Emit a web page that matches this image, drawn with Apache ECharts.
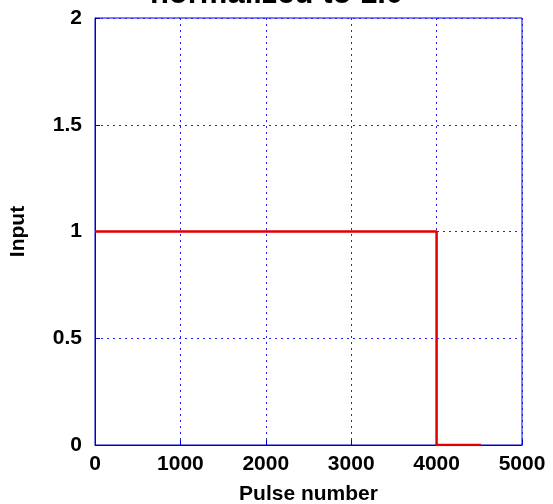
<!DOCTYPE html>
<html><head><meta charset="utf-8">
<script src="https://cdn.jsdelivr.net/npm/echarts@6/dist/echarts.min.js"></script>
<style>html,body{margin:0;padding:0;background:#fff}#c{width:553px;height:504px}</style>
</head><body><div id="c"></div>
<script>
const titleText = 'normalized to 1.0';
const xName = 'Pulse number';
const yName = 'Input';
const pulseX = [0, 4000, 4000, 4520];
const inputY = [1, 1, 0, 0];
const xTicks = [0, 1000, 2000, 3000, 4000, 5000];
const yTicks = [0, 0.5, 1, 1.5, 2];

const chart = echarts.init(document.getElementById('c'), null, {renderer: 'canvas'});
const font = 'Arial, "Liberation Sans", sans-serif';
const mkGrid = () => ({show: true, lineStyle: {color: '#2222ff', width: 1, type: [2, 4]}});
const mkLabel = (ticks, margin) => ({fontFamily: font, fontWeight: 'bold', fontSize: 21, color: '#000', margin: margin,
  formatter: v => ticks.includes(v) ? String(v) : ''});
chart.setOption({
  animation: false,
  title: {text: titleText, left: 'center', top: -26, textStyle: {fontFamily: font, fontWeight: 'bold', fontSize: 31, color: '#000'}},
  grid: {left: 95, right: 31, top: 18, bottom: 59, containLabel: false, outerBoundsMode: 'none',
    show: true, borderColor: '#0000cc', borderWidth: 1, backgroundColor: '#fff'},
  xAxis: {
    type: 'value', min: 0, max: 5000, interval: 1000,
    name: xName, nameLocation: 'middle', nameGap: 39,
    nameTextStyle: {fontFamily: font, fontWeight: 'bold', fontSize: 21, color: '#000'},
    axisLine: {show: true, onZero: false, lineStyle: {color: '#0000cc', width: 1}},
    axisTick: {show: true, inside: true, length: 5, lineStyle: {color: '#0000cc'}},
    axisLabel: mkLabel(xTicks, 9),
    splitLine: mkGrid()
  },
  yAxis: {
    type: 'value', min: 0, max: 2, interval: 0.5,
    name: yName, nameLocation: 'middle', nameGap: 66, nameRotate: 90,
    nameTextStyle: {fontFamily: font, fontWeight: 'bold', fontSize: 21, color: '#000'},
    axisLine: {show: true, onZero: false, lineStyle: {color: '#0000cc', width: 1}},
    axisTick: {show: true, inside: true, length: 5, lineStyle: {color: '#0000cc'}},
    axisLabel: mkLabel(yTicks, 13),
    splitLine: mkGrid()
  },
  series: [{
    type: 'line',
    data: pulseX.map((x, i) => [x, inputY[i]]),
    showSymbol: false,
    lineStyle: {color: '#e00000', width: 2.5},
    z: 5
  }]
});
</script></body></html>
